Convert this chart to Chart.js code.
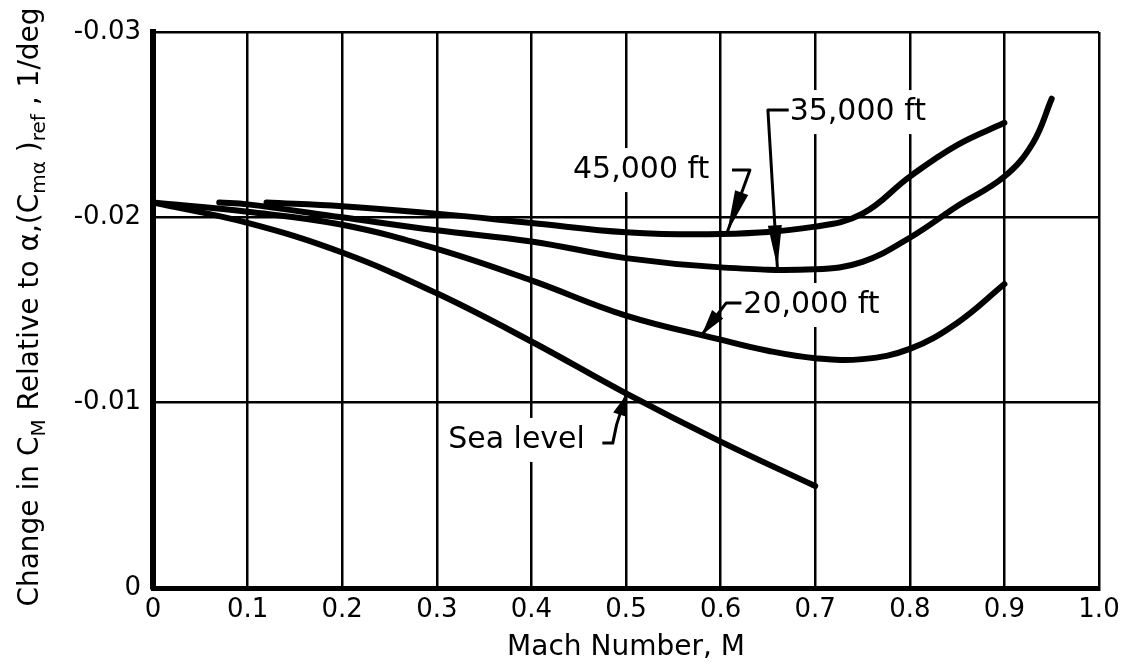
<!DOCTYPE html>
<html>
<head>
<meta charset="utf-8">
<title>Change in CM vs Mach Number</title>
<script src="https://cdn.jsdelivr.net/npm/chart.js@4.4.1/dist/chart.umd.min.js"></script>
<style>
  html, body { margin: 0; padding: 0; background: #fff; }
  #wrap { width: 1129px; height: 668px; position: relative; }
</style>
</head>
<body>
<div id="wrap"><canvas id="cmChart" width="1129" height="668"></canvas></div>
<script>
// Curves: change in Cm relative to alpha, per altitude
const machSeaLevel = [0, 0.1, 0.2, 0.3, 0.4, 0.5, 0.6, 0.7];
const cmSeaLevel = [-0.0208, -0.0197, -0.0181, -0.0159, -0.0133, -0.0105, -0.0079, -0.0055];

const mach20k = [0, 0.1, 0.2, 0.3, 0.4, 0.5, 0.6, 0.65, 0.7, 0.75, 0.8, 0.85, 0.9];
const cm20k = [-0.0208, -0.0203, -0.0196, -0.0183, -0.0166, -0.0147, -0.0134, -0.0128, -0.0124, -0.01235, -0.0129, -0.0143, -0.0164];

const mach35k = [0.07, 0.1, 0.2, 0.3, 0.4, 0.5, 0.6, 0.7, 0.75, 0.8, 0.85, 0.9, 0.93, 0.95];
const cm35k = [-0.0208, -0.0207, -0.0200, -0.0193, -0.0187, -0.0178, -0.0173, -0.0172, -0.0176, -0.0189, -0.0206, -0.0222, -0.0240, -0.0264];

const mach45k = [0.12, 0.2, 0.3, 0.4, 0.5, 0.6, 0.7, 0.75, 0.8, 0.85, 0.9];
const cm45k = [-0.0208, -0.0206, -0.0202, -0.0197, -0.0192, -0.0191, -0.0195, -0.0202, -0.0222, -0.0239, -0.0251];

// Axis ticks
const xTickValues = [0, 0.1, 0.2, 0.3, 0.4, 0.5, 0.6, 0.7, 0.8, 0.9, 1.0];
const xTickLabels = ['0', '0.1', '0.2', '0.3', '0.4', '0.5', '0.6', '0.7', '0.8', '0.9', '1.0'];
const yTickValues = [-0.03, -0.02, -0.01, 0];
const yTickLabels = ['-0.03', '-0.02', '-0.01', '0'];

// Curve labels with their leader lines (in data units)
const curveLabels = [
  { text: '45,000 ft', at: [0.444, -0.02255], leader: [[0.612, -0.02255], [0.631, -0.02255], [0.607, -0.0192]] },
  { text: '35,000 ft', at: [0.673, -0.02568], leader: [[0.672, -0.02579], [0.650, -0.02579], [0.660, -0.0173]] },
  { text: '20,000 ft', at: [0.624, -0.01527], leader: [[0.622, -0.01538], [0.606, -0.01538], [0.580, -0.01365]] },
  { text: 'Sea level', at: [0.312, -0.00799], leader: [[0.475, -0.00782], [0.486, -0.00782], [0.490, -0.0088], [0.500, -0.0104]] }
];

const FONT = '"DejaVu Sans", "Liberation Sans", sans-serif';

function toPoints(xs, ys) {
  return xs.map((x, i) => ({ x: x, y: ys[i] }));
}

function curve(label, xs, ys) {
  return {
    label: label,
    data: toPoints(xs, ys),
    borderColor: '#000',
    borderWidth: 6,
    pointRadius: 0,
    fill: false,
    tension: 0.4,
    borderCapStyle: 'round',
    borderJoinStyle: 'round'
  };
}

function drawArrowHead(ctx, fx, fy, tx, ty, len, halfW) {
  const dx = tx - fx, dy = ty - fy;
  const d = Math.hypot(dx, dy) || 1;
  const ux = dx / d, uy = dy / d;
  const bx = tx - ux * len, by = ty - uy * len;
  ctx.beginPath();
  ctx.moveTo(tx, ty);
  ctx.lineTo(bx - uy * halfW, by + ux * halfW);
  ctx.lineTo(bx + uy * halfW, by - ux * halfW);
  ctx.closePath();
  ctx.fill();
}

// Curve labels, leaders and the two axis titles
const annotatePlugin = {
  id: 'annotate',
  afterDatasetsDraw(chart) {
    const ctx = chart.ctx;
    const xs = chart.scales.x, ys = chart.scales.y;
    ctx.save();
    ctx.fillStyle = '#000';
    ctx.strokeStyle = '#000';

    curveLabels.forEach(lb => {
      ctx.font = '30px ' + FONT;
      const px = xs.getPixelForValue(lb.at[0]);
      const py = ys.getPixelForValue(lb.at[1]);
      const w = ctx.measureText(lb.text).width;
      // white knock-out behind the text breaks the grid lines
      ctx.fillStyle = '#fff';
      ctx.fillRect(px - 6, py - 22, w + 12, 44);
      ctx.fillStyle = '#000';
      ctx.textAlign = 'left';
      ctx.textBaseline = 'middle';
      ctx.fillText(lb.text, px, py);

      const pts = lb.leader.map(p => [xs.getPixelForValue(p[0]), ys.getPixelForValue(p[1])]);
      ctx.lineWidth = 3;
      ctx.lineJoin = 'round';
      ctx.beginPath();
      ctx.moveTo(pts[0][0], pts[0][1]);
      for (let i = 1; i < pts.length; i++) ctx.lineTo(pts[i][0], pts[i][1]);
      ctx.stroke();
      const a = pts[pts.length - 2], b = pts[pts.length - 1];
      const len = Math.min(42, Math.hypot(b[0] - a[0], b[1] - a[1]) * 0.65);
      drawArrowHead(ctx, a[0], a[1], b[0], b[1], len, 7);
    });

    // x axis title
    ctx.font = '28px ' + FONT;
    ctx.textAlign = 'center';
    ctx.textBaseline = 'middle';
    ctx.fillText('Mach Number, M', (chart.chartArea.left + chart.chartArea.right) / 2, 648);

    // y axis title with subscripts, rotated
    const parts = [
      ['Change in C', 0], ['M', 1], [' Relative to ', 0], ['α', 0], [',(C', 0],
      ['mα', 1], [' )', 0], ['ref', 1], [' , 1/deg', 0]
    ];
    const mainSize = 28, subSize = 20;
    let total = 0;
    parts.forEach(p => {
      ctx.font = (p[1] ? subSize : mainSize) + 'px ' + FONT;
      total += ctx.measureText(p[0]).width;
    });
    ctx.translate(38, 307);
    ctx.rotate(-Math.PI / 2);
    ctx.textAlign = 'left';
    ctx.textBaseline = 'alphabetic';
    let cx = -total / 2;
    parts.forEach(p => {
      ctx.font = (p[1] ? subSize : mainSize) + 'px ' + FONT;
      ctx.fillText(p[0], cx, p[1] ? 7 : 0);
      cx += ctx.measureText(p[0]).width;
    });
    ctx.restore();
  }
};

const ctx = document.getElementById('cmChart').getContext('2d');
const cmChart = new Chart(ctx, {
  type: 'line',
  data: {
    datasets: [
      curve('Sea level', machSeaLevel, cmSeaLevel),
      curve('20,000 ft', mach20k, cm20k),
      curve('35,000 ft', mach35k, cm35k),
      curve('45,000 ft', mach45k, cm45k)
    ]
  },
  options: {
    responsive: false,
    animation: false,
    layout: { padding: { top: 32, right: 30, left: 0, bottom: 0 } },
    plugins: {
      legend: { display: false },
      tooltip: { enabled: false }
    },
    scales: {
      x: {
        type: 'linear',
        min: 0,
        max: 1,
        afterBuildTicks: scale => { scale.ticks = xTickValues.map(v => ({ value: v })); },
        afterFit: scale => { scale.height = 80; },
        ticks: {
          callback: (v, i) => xTickLabels[i],
          color: '#000',
          font: { family: FONT, size: 26 },
          padding: 7,
          maxRotation: 0,
          autoSkip: false
        },
        grid: { color: '#000', lineWidth: 2.5, drawTicks: false },
        border: { display: true, color: '#000', width: 5 }
      },
      y: {
        type: 'linear',
        min: -0.03,
        max: 0,
        reverse: true,
        afterBuildTicks: scale => { scale.ticks = yTickValues.map(v => ({ value: v })); },
        afterFit: scale => { scale.width = 153; },
        ticks: {
          callback: (v, i) => yTickLabels[i],
          color: '#000',
          font: { family: FONT, size: 26 },
          padding: 12
        },
        grid: { color: '#000', lineWidth: 2.5, drawTicks: false },
        border: { display: true, color: '#000', width: 6 }
      }
    }
  },
  plugins: [annotatePlugin]
});
</script>
</body>
</html>
